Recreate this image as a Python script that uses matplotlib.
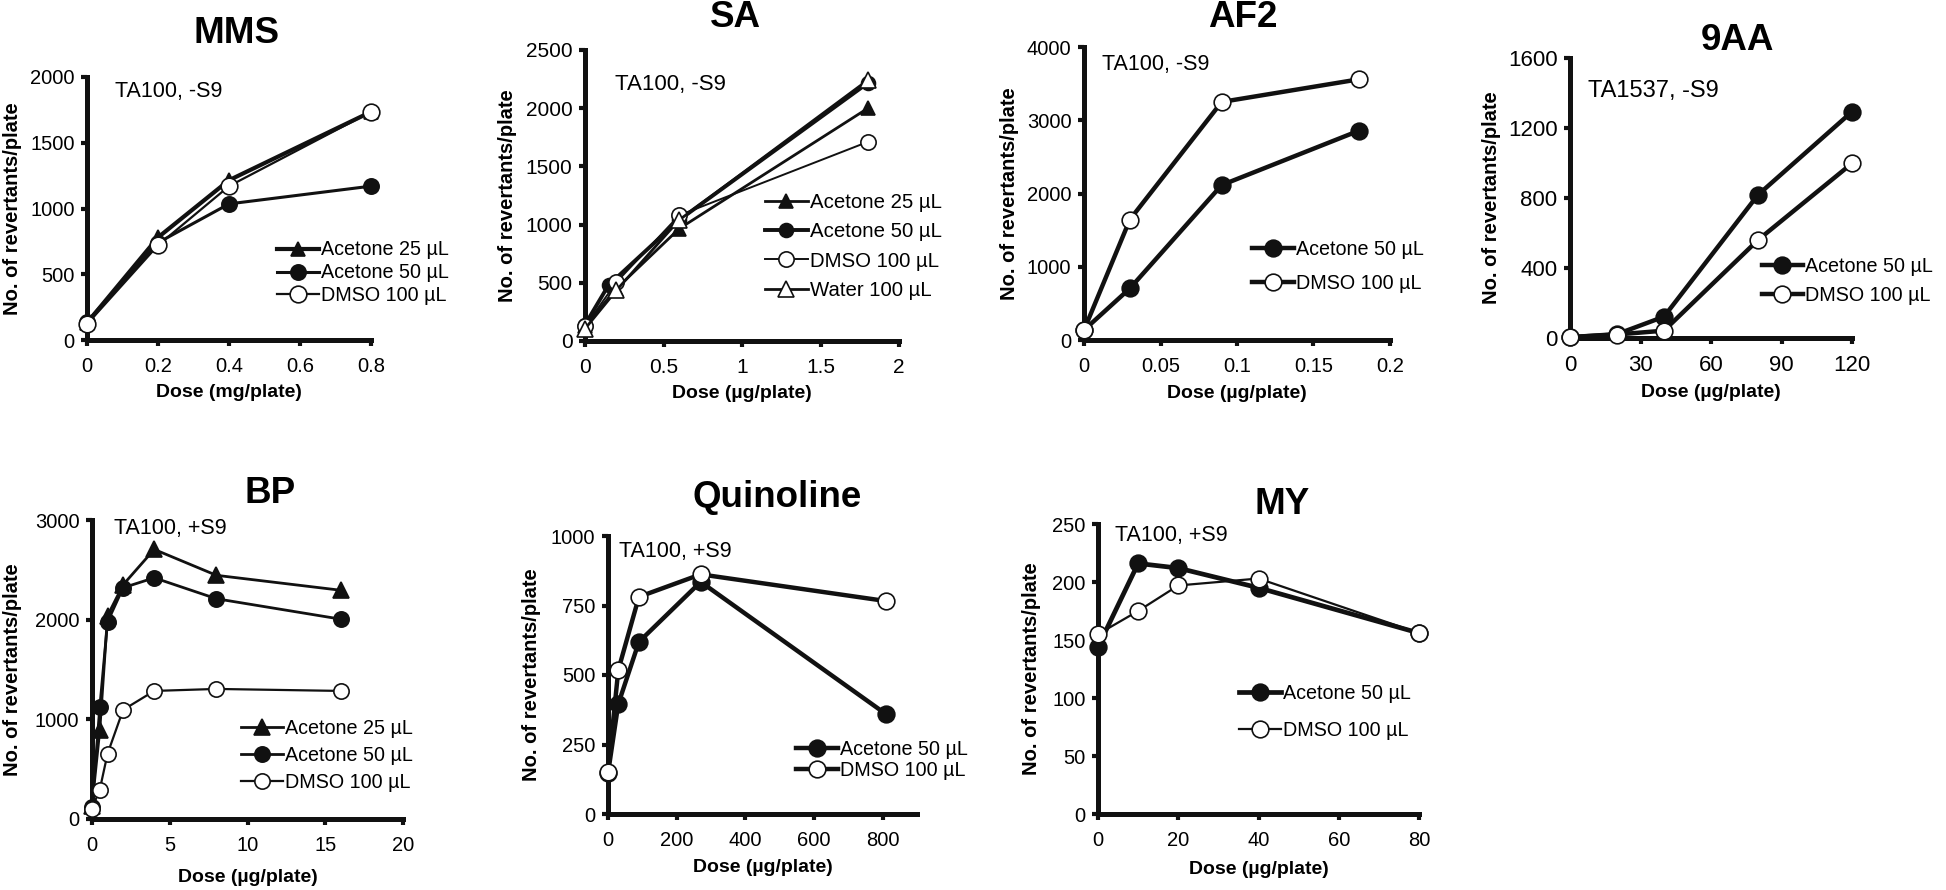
import matplotlib
matplotlib.use('Agg')
import matplotlib.pyplot as plt

plt.rcParams['font.family'] = ['Liberation Sans', 'DejaVu Sans']

# ---- data ----
mms_dose = [0, 0.2, 0.4, 0.8]
mms_ace25 = [130, 780, 1215, 1735]
mms_ace50 = [140, 740, 1035, 1170]
mms_dmso = [120, 720, 1170, 1735]

sa_dose = [0, 0.2, 0.6, 1.8]
sa_dose_ace50 = [0, 0.15, 0.6, 1.8]
sa_ace25 = [130, 450, 965, 1998]
sa_ace50 = [140, 480, 1040, 2215]
sa_dmso = [125, 505, 1080, 1710]
sa_water = [105, 435, 1040, 2240]

af2_dose = [0, 0.03, 0.09, 0.18]
af2_ace50 = [135, 705, 2115, 2860]
af2_dmso = [135, 1645, 3250, 3560]

aa9_dose = [0, 20, 40, 80, 120]
aa9_ace50 = [5, 22, 122, 818, 1293]
aa9_dmso = [5, 20, 42, 560, 998]

bp_dose = [0, 0.5, 1, 2, 4, 8, 16]
bp_ace25 = [135, 890, 2040, 2350, 2705, 2445, 2295]
bp_ace50 = [118, 1120, 1978, 2320, 2420, 2210, 2005]
bp_dmso = [105, 295, 655, 1095, 1285, 1305, 1285]

qu_dose = [0, 30, 90, 270, 810]
qu_ace50 = [146, 396, 619, 835, 359]
qu_dmso = [151, 518, 781, 862, 766]

my_dose = [0, 10, 20, 40, 80]
my_ace50 = [144, 216, 212, 195, 156]
my_dmso = [155, 175, 197, 203, 156]

INK = '#111111'
W, H = 1946, 890

fig = plt.figure(figsize=(W / 100, H / 100), dpi=100)


def make_axes(l, t, r, b):
    return fig.add_axes([l / W, 1 - b / H, (r - l) / W, (b - t) / H])


def series(ax, x, y, label, marker, filled, lw, ms):
    ax.plot(x, y, color=INK, lw=lw, marker=marker, ms=ms,
            mfc=INK if filled else 'white', mec=INK, mew=1.2,
            label=label, clip_on=False, zorder=3)


def style(ax, title, tpos, note, npos, xlim, xticks, ylim, yticks, xlabel,
          ylx, xly, leg_pos, leg_space, fs=14.5, legfs=None):
    ax.set_xlim(*xlim)
    ax.set_ylim(*ylim)
    ax.set_xticks(xticks)
    ax.set_yticks(yticks)
    ax.set_xticklabels([('%g' % v) for v in xticks])
    for s in ['top', 'right']:
        ax.spines[s].set_visible(False)
    for s in ['left', 'bottom']:
        ax.spines[s].set_linewidth(3.6)
        ax.spines[s].set_color(INK)
    ax.tick_params(direction='out', length=4, width=3, labelsize=fs,
                   color=INK, pad=5)
    ax.tick_params(axis='x', pad=8)
    ax.set_xlabel(xlabel, fontsize=14, fontweight='bold', va='center')
    ax.set_ylabel('No. of revertants/plate', fontsize=14.5, fontweight='bold',
                  va='center')
    ax.yaxis.set_label_coords(ylx, 0.5)
    ax.xaxis.set_label_coords(0.5, xly)
    ax.text(tpos[0], tpos[1], title, transform=ax.transAxes, ha='center',
            va='center', fontsize=26.5, fontweight='bold')
    ax.text(npos[0], npos[1], note, transform=ax.transAxes, ha='left',
            va='center', fontsize=fs + 1)
    if legfs is None:
        legfs = fs - 0.3
    leg = ax.legend(loc='center left', bbox_to_anchor=leg_pos, frameon=False,
                    fontsize=legfs, handlelength=2.1, handletextpad=0.1,
                    labelspacing=leg_space, borderpad=0, borderaxespad=0)
    return leg


# MMS
ax = make_axes(87, 77, 371, 340)
series(ax, mms_dose, mms_ace25, 'Acetone 25 µL', '^', True, 3.0, 10)
series(ax, mms_dose, mms_ace50, 'Acetone 50 µL', 'o', True, 2.2, 11)
series(ax, mms_dose, mms_dmso, 'DMSO 100 µL', 'o', False, 1.6, 12)
style(ax, 'MMS', (0.528, 1.167), 'TA100, -S9', (0.1, 0.943), (0, 0.8),
      [0, 0.2, 0.4, 0.6, 0.8], (0, 2000), [0, 500, 1000, 1500, 2000],
      'Dose (mg/plate)', -0.264, -0.2, (0.67, 0.255), 0.2)

# SA
ax = make_axes(585, 50, 899, 341)
series(ax, sa_dose, sa_ace25, 'Acetone 25 µL', '^', True, 2.0, 10)
series(ax, sa_dose_ace50, sa_ace50, 'Acetone 50 µL', 'o', True, 2.8, 10)
series(ax, sa_dose, sa_dmso, 'DMSO 100 µL', 'o', False, 1.4, 11)
series(ax, sa_dose, sa_water, 'Water 100 µL', '^', False, 2.0, 11)
style(ax, 'SA', (0.478, 1.113), 'TA100, -S9', (0.096, 0.88), (0, 2),
      [0, 0.5, 1, 1.5, 2], (0, 2500), [0, 500, 1000, 1500, 2000, 2500],
      'Dose (µg/plate)', -0.248, -0.179, (0.573, 0.325), 0.5, fs=15)

# AF2
ax = make_axes(1084, 47, 1390, 340)
series(ax, af2_dose, af2_ace50, 'Acetone 50 µL', 'o', True, 3.2, 12)
series(ax, af2_dose, af2_dmso, 'DMSO 100 µL', 'o', False, 3.2, 12)
style(ax, 'AF2', (0.52, 1.102), 'TA100, -S9', (0.059, 0.939), (0, 0.2),
      [0, 0.05, 0.1, 0.15, 0.2], (0, 4000), [0, 1000, 2000, 3000, 4000],
      'Dose (µg/plate)', -0.245, -0.181, (0.55, 0.251), 0.8)

# 9AA
ax = make_axes(1570, 58, 1852, 338)
series(ax, aa9_dose, aa9_ace50, 'Acetone 50 µL', 'o', True, 3.2, 12)
series(ax, aa9_dose, aa9_dmso, 'DMSO 100 µL', 'o', False, 3.2, 12)
style(ax, '9AA', (0.592, 1.064), 'TA1537, -S9', (0.064, 0.882), (0, 120),
      [0, 30, 60, 90, 120], (0, 1600), [0, 400, 800, 1200, 1600],
      'Dose (µg/plate)', -0.277, -0.196, (0.68, 0.204), 0.5, fs=16,
      legfs=14.2)

# BP
ax = make_axes(92, 520, 403, 819)
series(ax, bp_dose, bp_ace25, 'Acetone 25 µL', '^', True, 2.0, 11)
series(ax, bp_dose, bp_ace50, 'Acetone 50 µL', 'o', True, 2.0, 11)
series(ax, bp_dose, bp_dmso, 'DMSO 100 µL', 'o', False, 1.6, 11)
style(ax, 'BP', (0.574, 1.09), 'TA100, +S9', (0.07, 0.973), (0, 20),
      [0, 5, 10, 15, 20], (0, 3000), [0, 1000, 2000, 3000],
      'Dose (µg/plate)', -0.257, -0.194, (0.48, 0.212), 0.4)

# Quinoline
ax = make_axes(608, 536, 917, 814)
series(ax, qu_dose, qu_ace50, 'Acetone 50 µL', 'o', True, 3.2, 12)
series(ax, qu_dose, qu_dmso, 'DMSO 100 µL', 'o', False, 3.2, 12)
style(ax, 'Quinoline', (0.548, 1.137), 'TA100, +S9', (0.035, 0.946), (0, 900),
      [0, 200, 400, 600, 800], (0, 1000), [0, 250, 500, 750, 1000],
      'Dose (µg/plate)', -0.248, -0.194, (0.61, 0.194), 0.1)

# MY
ax = make_axes(1098, 524, 1419, 814)
series(ax, my_dose, my_ace50, 'Acetone 50 µL', 'o', True, 3.4, 12)
series(ax, my_dose, my_dmso, 'DMSO 100 µL', 'o', False, 1.6, 12)
style(ax, 'MY', (0.573, 1.066), 'TA100, +S9', (0.053, 0.962), (0, 80),
      [0, 20, 40, 60, 80], (0, 250), [0, 50, 100, 150, 200, 250],
      'Dose (µg/plate)', -0.206, -0.193, (0.44, 0.352), 0.9)

fig.savefig('out.png', dpi=100, facecolor='white')
